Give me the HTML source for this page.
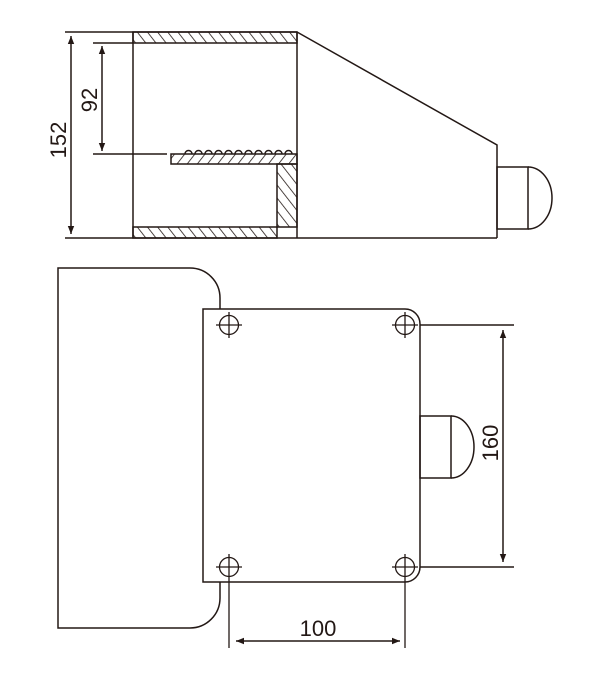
<!DOCTYPE html>
<html><head><meta charset="utf-8"><style>
html,body{margin:0;padding:0;background:#fff;width:600px;height:678px;overflow:hidden}
svg{display:block}
text{font-family:"Liberation Sans",Arial,sans-serif;fill:#231815}
</style></head><body>
<svg width="600" height="678" viewBox="0 0 600 678" xmlns="http://www.w3.org/2000/svg">
<defs>
<pattern id="hb" patternUnits="userSpaceOnUse" width="8" height="8" patternTransform="rotate(-38)">
<line x1="0" y1="0" x2="0" y2="8" stroke="#231815" stroke-width="1.6"/></pattern>
<pattern id="hf" patternUnits="userSpaceOnUse" width="8" height="8" patternTransform="rotate(38)">
<line x1="0" y1="0" x2="0" y2="8" stroke="#231815" stroke-width="1.6"/></pattern>
<marker id="ar" viewBox="0 0 10 10" refX="10" refY="5" markerWidth="12" markerHeight="8" markerUnits="userSpaceOnUse" orient="auto-start-reverse">
<path d="M0,1 L10,5 L0,9 Z" fill="#231815"/></marker>
</defs>
<g stroke="#231815" stroke-width="1.5" fill="none">
<line x1="65" y1="32" x2="297" y2="32"/>
<line x1="65" y1="238" x2="497" y2="238"/>
<rect x="133" y="32" width="164" height="11" fill="url(#hb)"/>
<rect x="133" y="227" width="144" height="11" fill="url(#hb)"/>
<line x1="133" y1="32" x2="133" y2="238"/>
<line x1="297" y1="32" x2="297" y2="238"/>
<rect x="277" y="164" width="20" height="63" fill="url(#hb)"/>
<rect x="171" y="154" width="126" height="10" fill="url(#hf)"/>
<path d="M185,154 a3.5,3.5 0 0 1 7,0 M195,154 a3.5,3.5 0 0 1 7,0 M205,154 a3.5,3.5 0 0 1 7,0 M215,154 a3.5,3.5 0 0 1 7,0 M225,154 a3.5,3.5 0 0 1 7,0 M235,154 a3.5,3.5 0 0 1 7,0 M245,154 a3.5,3.5 0 0 1 7,0 M255,154 a3.5,3.5 0 0 1 7,0 M265,154 a3.5,3.5 0 0 1 7,0 M275,154 a3.5,3.5 0 0 1 7,0 M285,154 a3.5,3.5 0 0 1 7,0" stroke-width="1.4"/>
<polyline points="297,32 497,145 497,238"/>
<rect x="497" y="167" width="31" height="62"/>
<path d="M528,167 A24,31 0 0 1 528,229"/>
<line x1="93" y1="43" x2="133" y2="43"/>
<line x1="93" y1="154" x2="167" y2="154"/>
<line x1="71" y1="36" x2="71" y2="234" marker-start="url(#ar)" marker-end="url(#ar)"/>
<line x1="102" y1="46" x2="102" y2="151" marker-start="url(#ar)" marker-end="url(#ar)"/>
<path d="M220,309 V298 A30,30 0 0 0 190,268 H58 V628 H190 A30,30 0 0 0 220,598 V582"/>
<path d="M203,309 H405 A15,15 0 0 1 420,324 V567 A15,15 0 0 1 405,582 H203 Z"/>
<g stroke-width="1.3">
<circle cx="229" cy="325" r="9.5"/><line x1="216" y1="325" x2="242" y2="325"/><line x1="229" y1="312" x2="229" y2="338"/>
<circle cx="405" cy="325" r="9.5"/><line x1="392" y1="325" x2="418" y2="325"/><line x1="405" y1="312" x2="405" y2="338"/>
<circle cx="229" cy="567" r="9.5"/><line x1="216" y1="567" x2="242" y2="567"/><line x1="229" y1="554" x2="229" y2="648"/>
<circle cx="405" cy="567" r="9.5"/><line x1="392" y1="567" x2="418" y2="567"/><line x1="405" y1="554" x2="405" y2="648"/>
</g>
<rect x="420" y="416" width="31" height="62"/>
<path d="M451,416 A23,31 0 0 1 451,478"/>
<line x1="420" y1="325" x2="514" y2="325"/>
<line x1="420" y1="567" x2="514" y2="567"/>
<line x1="503" y1="330" x2="503" y2="562" marker-start="url(#ar)" marker-end="url(#ar)"/>
<line x1="236" y1="641" x2="400" y2="641" marker-start="url(#ar)" marker-end="url(#ar)"/>
</g>
<text x="0" y="0" font-size="22" text-anchor="middle" transform="translate(66,140) rotate(-90)">152</text>
<text x="0" y="0" font-size="22" text-anchor="middle" transform="translate(97,100) rotate(-90)">92</text>
<text x="0" y="0" font-size="22" text-anchor="middle" transform="translate(498,443) rotate(-90)">160</text>
<text x="318" y="636" font-size="22" text-anchor="middle">100</text>
</svg>
</body></html>
